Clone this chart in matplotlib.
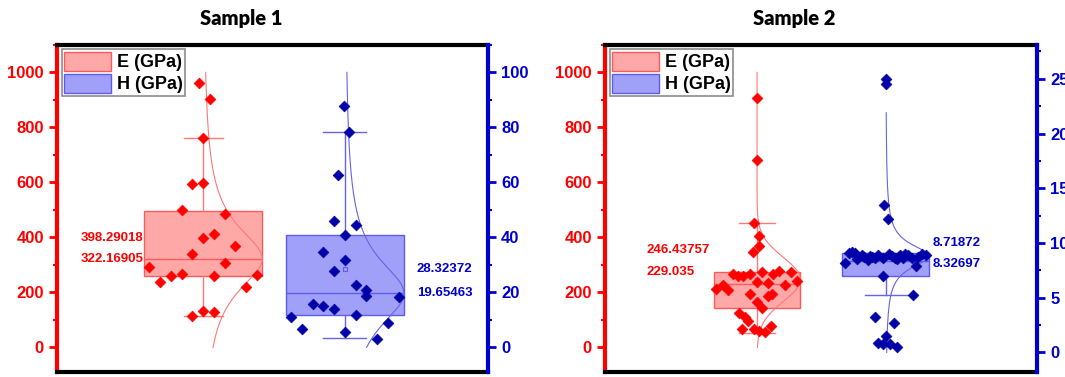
import numpy as np
import matplotlib.pyplot as plt
from matplotlib.patches import Patch
from matplotlib.ticker import MultipleLocator

plt.rcParams['font.family'] = ['Liberation Sans', 'DejaVu Sans']
plt.rcParams['font.weight'] = 'bold'

# ---- Sample 1 ----
s1_e = [960, 902, 760, 593, 596, 498, 484, 411, 396, 367, 338, 305, 291, 236,
        258, 266, 258, 262, 218, 113, 131, 127]
s1_e_jit = [-0.4, 0.6, 0, -1, 0, -2, 2, 1, 0, 3, -1, 2, -5, -4, -3, -2, 1, 5, 4, -1, 0, 1]
s1_e_stats = dict(q1=258, med=322.16905, q3=497, whislo=113, whishi=760, mean=398.29018)

s1_h = [87.6, 78.2, 62.5, 45.8, 44.4, 40.7, 34.5, 31.6, 27.6, 22.5, 20.7, 18.5,
        18.2, 15.6, 14.9, 13.8, 10.9, 11.6, 6.5, 8.7, 5.5, 2.9]
s1_h_jit = [-0.1, 0.4, -0.6, -1, 1, 0, -2, 0, -1, 1, 2, 2, 5, -3, -2, -1, -5, 1, -4, 4, 0, 3]
s1_h_stats = dict(q1=11.6, med=19.65463, q3=40.7, whislo=3.3, whishi=78.2, mean=28.32372)

# ---- Sample 2 ----
s2_e = [905, 680, 454, 404, 367, 345,
        211, 225, 207, 265, 258, 258, 265, 236, 273, 233, 265, 276, 225, 273, 240,
        193, 164, 142, 185, 193, 124, 109, 95, 65, 65, 58, 55, 76]
s2_e_jit = [0, 0, -0.5, 0.4, 0.4, -0.7,
            -7.3, -6.1, -5.2, -4.3, -3.4, -2.5, -1.2, 0, 0.9, 2, 2.9, 3.9, 5, 6.1, 7.1,
            -1.2, 0, 0.9, 2, 2.7, -3.2, -2.1, -1.6, -2.7, -0.5, 0.4, 1.4, 2.5]
s2_e_stats = dict(q1=142, med=229.035, q3=273, whislo=51, whishi=454, mean=246.43757)

s2_h = [25.0, 24.5, 13.5, 12.2, 7.85, 7.0, 5.2, 3.2, 2.65, 1.5, 0.9, 0.8, 0.8, 0.5,
        8.2, 9.1, 9.2, 8.5, 8.9, 8.7, 8.4, 8.7, 8.6, 8.9, 8.6, 9.0, 8.8, 8.6, 8.9,
        8.6, 8.9, 8.6, 9.0, 8.9, 9.1, 8.8, 8.5, 9.0, 8.7]
s2_h_jit = [0, 0, -0.4, 0.4, 5.4, -0.5, 4.8, -1.9, 1.4, 0, -1.4, -0.5, 0.7, 2,
            -7.3, -6.6, -6.1, -5.2, -4.3, -3.8, -3.2, -2.5, -2, -1.4, -0.5, 0.5, 1.1, 1.6, 2.5,
            3.0, 3.9, 4.6, 6.4, 7.1, -5.5, -2.9, 2, 3.4, 5.7]
s2_h_stats = dict(q1=7.0, med=8.32697, q3=9.05, whislo=5.2, whishi=9.05, mean=8.71872)

# distribution curve parameters: (kind, loc, scale, lo, hi)
s1_e_curve = ('lorentz', 322, 145, 0, 1000)
s1_h_curve = ('lorentz', 19.65, 15, 0, 100)
s2_e_curve = ('normal', 247, 80, 0, 1000)
s2_h_curve = ('lorentz', 8.8, 1.3, 0, 21.9)

E_FILL, E_EDGE, E_PT, E_LINE = '#FFA8A8', '#FF5A5A', '#FF0000', '#FF7878'
H_FILL, H_EDGE, H_PT, H_LINE = '#A0A0F8', '#5C5CF0', '#0000A8', '#6464E6'
RED, BLUE = '#FF0000', '#0000CD'


def curve_shape(spec, v):
    kind, loc, sc = spec[0], spec[1], spec[2]
    if kind == 'lorentz':
        return 1.0 / (1.0 + ((v - loc) / sc) ** 2)
    return np.exp(-0.5 * ((v - loc) / sc) ** 2)


def draw_group(ax, vals, jit, stats, spec, pos, width, step, cap, fill, edge, pt, line):
    st = dict(stats, fliers=[])
    ax.bxp([st], positions=[pos], widths=[width], capwidths=[cap],
           patch_artist=True, showfliers=False, manage_ticks=False,
           boxprops=dict(facecolor=fill, edgecolor=edge, linewidth=1),
           medianprops=dict(color=edge, linewidth=1),
           whiskerprops=dict(color=line, linewidth=1),
           capprops=dict(color=line, linewidth=1), zorder=2)
    v = np.linspace(spec[3], spec[4], 400)
    ax.plot(pos + width / 2 * curve_shape(spec, v), v, color=line, lw=0.8, zorder=3)
    ax.plot([pos], [stats['mean']], marker='s', ms=3, mfc='none', mec=edge, mew=0.8, zorder=3.5)
    ax.scatter(pos + np.array(jit) * step, vals, marker='D', s=30, color=pt,
               edgecolors=pt, linewidths=0.5, zorder=4)


def style_axes(ax, ax2, h_ylim, h_major, h_minor):
    ax.set_xlim(0, 1)
    ax.set_ylim(-90, 1100)
    ax.set_xticks([])
    ax.yaxis.set_major_locator(MultipleLocator(200))
    ax.yaxis.set_minor_locator(MultipleLocator(100))
    ax.tick_params(axis='y', which='major', colors=RED, direction='out', length=6, width=2, labelsize=12)
    ax.tick_params(axis='y', which='minor', colors=RED, direction='out', length=3, width=1.5)
    for lab in ax.get_yticklabels():
        lab.set_fontweight('bold')
    ax.spines['left'].set_color(RED)
    ax.spines['left'].set_linewidth(3)
    ax.spines['right'].set_visible(False)
    for s in ('top', 'bottom'):
        ax.spines[s].set_color('black')
        ax.spines[s].set_linewidth(3)

    ax2.set_ylim(*h_ylim)
    ax2.yaxis.set_major_locator(MultipleLocator(h_major))
    ax2.yaxis.set_minor_locator(MultipleLocator(h_minor))
    ax2.tick_params(axis='y', which='major', colors=BLUE, direction='out', length=6, width=2, labelsize=12)
    ax2.tick_params(axis='y', which='minor', colors=BLUE, direction='out', length=3, width=1.5)
    for lab in ax2.get_yticklabels():
        lab.set_fontweight('bold')
    for s in ('left', 'top', 'bottom'):
        ax2.spines[s].set_visible(False)
    ax2.spines['right'].set_color(BLUE)
    ax2.spines['right'].set_linewidth(3)

    handles = [Patch(facecolor=E_FILL, edgecolor=E_EDGE, label='E (GPa)'),
               Patch(facecolor=H_FILL, edgecolor=H_EDGE, label='H (GPa)')]
    leg = ax2.legend(handles=handles, loc='upper left', prop={'weight': 'bold', 'size': 13},
                     fancybox=False, edgecolor='#8C8C8C', framealpha=1,
                     handlelength=2.6, handleheight=1.2, borderpad=0.15,
                     labelspacing=0.15, handletextpad=0.3, borderaxespad=0.25)
    leg.get_frame().set_linewidth(1.2)


def label(ax, text, x, y, dy, ha, color):
    ax.annotate(text, xy=(x, y), xytext=(0, dy), textcoords='offset points',
                ha=ha, va='center', color=color, fontsize=9.5, fontweight='bold', zorder=6)


fig = plt.figure(figsize=(10.65, 3.77), dpi=100)

# panel 1
ax = fig.add_axes([57 / 1065, 0.013, 431 / 1065, 0.868])
ax2 = ax.twinx()
draw_group(ax, s1_e, s1_e_jit, s1_e_stats, s1_e_curve, 0.339, 0.274, 0.0249, 0.09,
           E_FILL, E_EDGE, E_PT, E_LINE)
draw_group(ax2, s1_h, s1_h_jit, s1_h_stats, s1_h_curve, 0.668, 0.274, 0.0249, 0.1,
           H_FILL, H_EDGE, H_PT, H_LINE)
style_axes(ax, ax2, (-9, 110), 20, 10)
label(ax, '%.5f' % s1_e_stats['mean'], 0.2, s1_e_stats['mean'], 0, 'right', RED)
label(ax, '%.5f' % s1_e_stats['med'], 0.2, s1_e_stats['med'], 0, 'right', RED)
label(ax2, '%.5f' % s1_h_stats['mean'], 0.835, s1_h_stats['mean'], 0, 'left', BLUE)
label(ax2, '%.5f' % s1_h_stats['med'], 0.835, s1_h_stats['med'], 0, 'left', BLUE)
fig.text(241 / 1065, 1 - 18 / 377, 'Sample 1', ha='center', va='center',
         fontsize=14.5, fontweight='heavy', family=['Lato', 'DejaVu Sans'])

# panel 2
bx = fig.add_axes([605 / 1065, 0.013, 432 / 1065, 0.868])
bx2 = bx.twinx()
draw_group(bx, s2_e, s2_e_jit, s2_e_stats, s2_e_curve, 0.352, 0.201, 0.013, 0.082,
           E_FILL, E_EDGE, E_PT, E_LINE)
draw_group(bx2, s2_h, s2_h_jit, s2_h_stats, s2_h_curve, 0.650, 0.201, 0.013, 0.097,
           H_FILL, H_EDGE, H_PT, H_LINE)
style_axes(bx, bx2, (-1.8, 28.1), 5, 2.5)
label(bx, '246.43757', 0.097, s2_e_stats['mean'], 21.6, 'left', RED)
label(bx, '229.035', 0.097, s2_e_stats['med'], 8.6, 'left', RED)
label(bx2, '8.71872', 0.759, s2_h_stats['mean'], 10.4, 'left', BLUE)
label(bx2, '8.32697', 0.759, s2_h_stats['med'], -2.3, 'left', BLUE)
fig.text(794 / 1065, 1 - 18 / 377, 'Sample 2', ha='center', va='center',
         fontsize=14.5, fontweight='heavy', family=['Lato', 'DejaVu Sans'])

fig.savefig('out.png', dpi=100)
